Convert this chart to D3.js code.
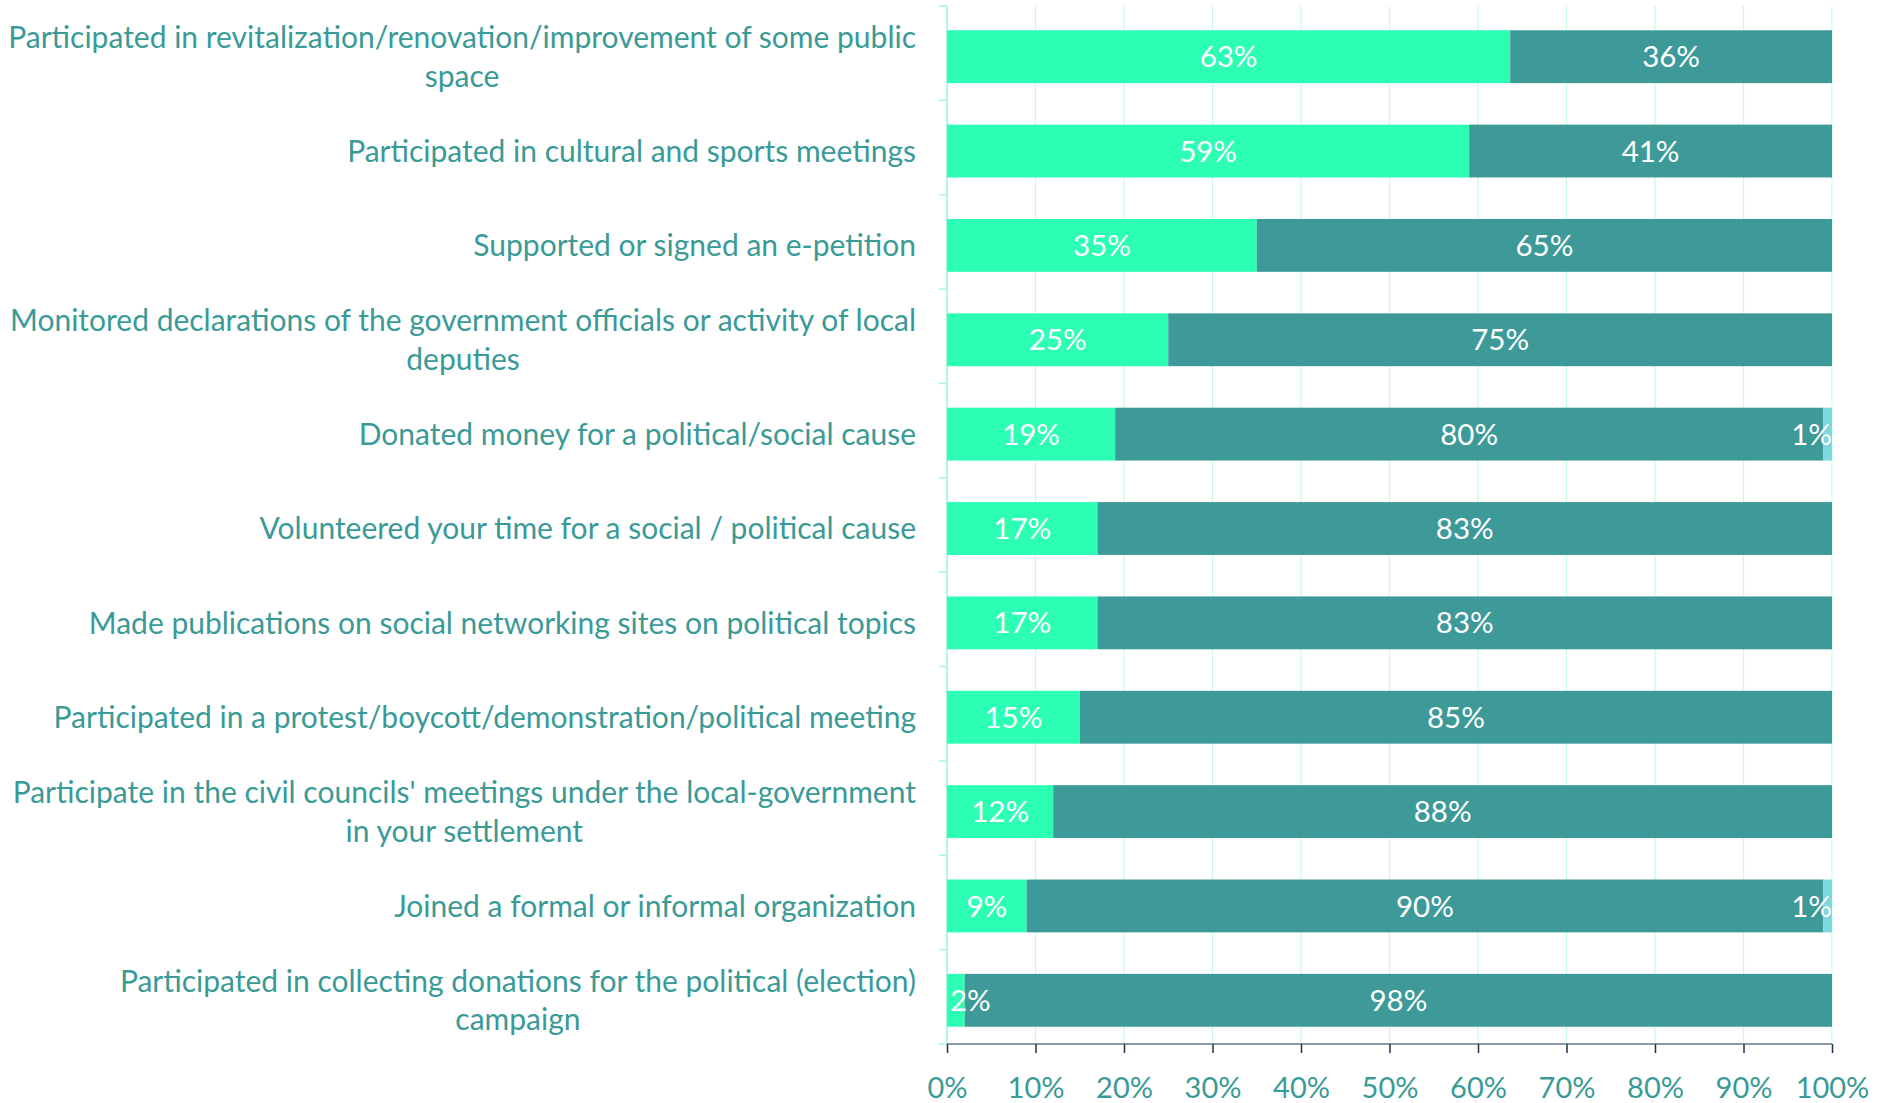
<!DOCTYPE html>
<html><head><meta charset="utf-8">
<script src="https://cdn.jsdelivr.net/npm/d3@7"></script>
<style>html,body{margin:0;padding:0;background:#fff;}svg{display:block;}</style>
</head><body>
<svg id="chart" width="1881" height="1103"></svg>
<script>
const categories = [
  ["Participated in revitalization/renovation/improvement of some public", "space"],
  ["Participated in cultural and sports meetings"],
  ["Supported or signed an e-petition"],
  ["Monitored declarations of the government officials or activity of local", "deputies"],
  ["Donated money for a political/social cause"],
  ["Volunteered your time for a social / political cause"],
  ["Made publications on social networking sites on political topics"],
  ["Participated in a protest/boycott/demonstration/political meeting"],
  ["Participate in the civil councils' meetings under the local-government", "in your settlement"],
  ["Joined a formal or informal organization"],
  ["Participated in collecting donations for the political (election)", "campaign"]
];
const yesValues = [63, 59, 35, 25, 19, 17, 17, 15, 12, 9, 2];
const noValues  = [36, 41, 65, 75, 80, 83, 83, 85, 88, 90, 98];
const otherValues = [0, 0, 0, 0, 1, 0, 0, 0, 0, 1, 0];
const tickValues = [0, 0.1, 0.2, 0.3, 0.4, 0.5, 0.6, 0.7, 0.8, 0.9, 1.0];

const seriesColors = ["#2CFFB3", "#3D9A99", "#7DD8DF"];
const textColor = "#3A9A96";
const fontFam = "Lato, 'Open Sans', sans-serif";

const svg = d3.select("#chart");
const m = {left: 947, right: 49, top: 6, bottom: 59};
const W = 1881, H = 1103;
const plotW = W - m.left - m.right, plotH = H - m.top - m.bottom;

const x = d3.scaleLinear().domain([0, 1]).range([m.left, m.left + plotW]);
const y = d3.scaleBand().domain(d3.range(categories.length)).range([m.top + 3.5, m.top + plotH + 3.5]).paddingInner(0.44).paddingOuter(0.22);

// gridlines
svg.append("g").selectAll("line").data(tickValues).join("line")
  .attr("x1", d => x(d)).attr("x2", d => x(d))
  .attr("y1", m.top).attr("y2", m.top + plotH)
  .attr("stroke", "#C6FBE6").attr("stroke-width", 1.2);

// left axis (mint) with band boundary ticks
const leftAxis = svg.append("g");
leftAxis.append("line").attr("x1", m.left).attr("x2", m.left).attr("y1", m.top).attr("y2", m.top + plotH)
  .attr("stroke", "#A8F5DA").attr("stroke-width", 1.5);
const bounds = d3.range(categories.length + 1).map(i => m.top + i * (plotH / categories.length));
leftAxis.selectAll("line.tk").data(bounds).join("line").attr("class", "tk")
  .attr("x1", m.left - 8).attr("x2", m.left).attr("y1", d => d).attr("y2", d => d)
  .attr("stroke", "#A8F5DA").attr("stroke-width", 1.5);

// stacked data normalized to 100%
const rows = categories.map((c, i) => {
  const vals = [yesValues[i], noValues[i], otherValues[i]];
  const tot = d3.sum(vals);
  let acc = 0;
  return vals.map((v, k) => { const s = {i, k, v, x0: acc / tot, x1: (acc + v) / tot}; acc += v; return s; });
});

const segs = rows.flat().filter(d => d.v > 0);
svg.append("g").selectAll("rect").data(segs).join("rect")
  .attr("x", d => x(d.x0)).attr("width", d => x(d.x1) - x(d.x0))
  .attr("y", d => y(d.i)).attr("height", y.bandwidth())
  .attr("fill", d => seriesColors[d.k]);

// value labels
const valFont = 29.5;
const vl = svg.append("g").selectAll("text").data(segs).join("text")
  .attr("y", d => y(d.i) + y.bandwidth() / 2)
  .attr("dy", "0.36em")
  .attr("fill", "#fff")
  .attr("font-family", fontFam).attr("font-size", valFont)
  .text(d => d.v + "%");
vl.each(function(d) {
  const w = this.getComputedTextLength();
  let cx = (x(d.x0) + x(d.x1)) / 2;
  cx = Math.max(m.left + 3 + w / 2, Math.min(x(1) - w / 2, cx));
  d3.select(this).attr("x", cx).attr("text-anchor", "middle");
});

// bottom axis
const axisY = m.top + plotH;
const xAxis = d3.axisBottom(x).tickValues(tickValues).tickFormat(d3.format(".0%")).tickSize(9).tickPadding(24);
const gx = svg.append("g").attr("transform", `translate(0,${axisY})`).call(xAxis);
gx.select(".domain").attr("stroke", "#8C9AA8").attr("stroke-width", 2).attr("d", `M${x(0)},0H${x(1)}`);
gx.selectAll(".tick line").attr("stroke", "#1F3050").attr("stroke-width", 1.5);
gx.selectAll(".tick text").attr("fill", textColor).attr("font-family", fontFam).attr("font-size", 29);

// category labels
const labelRight = 916;
const catFont = 30;
const lineH = 38.5;
const lg = svg.append("g");
categories.forEach((lines, i) => {
  const cy = y(i) + y.bandwidth() / 2;
  const t = lg.append("text").attr("fill", textColor).attr("font-family", fontFam).attr("font-size", catFont).attr("text-anchor", "middle");
  const n = lines.length;
  const spans = lines.map((ln, j) => t.append("tspan").attr("y", cy + (j - (n - 1) / 2) * lineH).attr("dy", "0.36em").text(ln));
  let maxW = 0;
  spans.forEach(s => { maxW = Math.max(maxW, s.node().getComputedTextLength()); });
  spans.forEach(s => s.attr("x", labelRight - maxW / 2));
});
</script>
</body></html>
